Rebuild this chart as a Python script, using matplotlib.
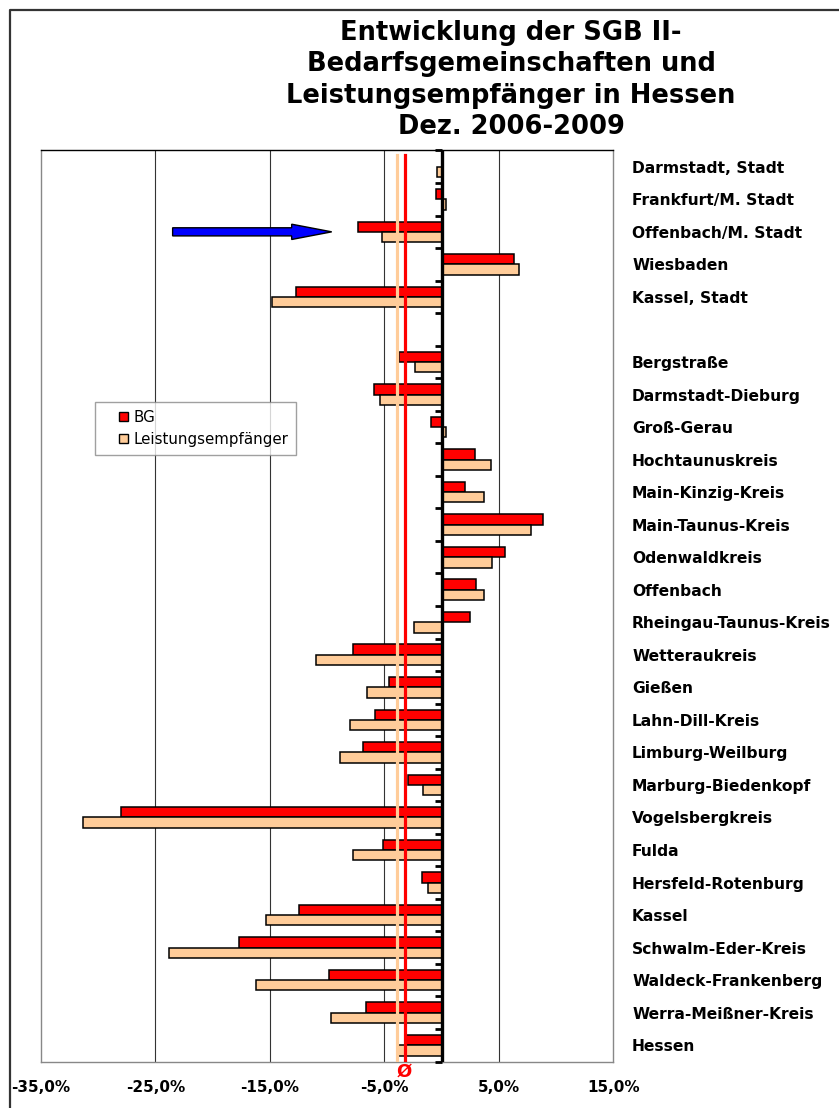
import numpy as np
import matplotlib
matplotlib.use("Agg")
import matplotlib.pyplot as plt
from matplotlib.patches import Patch, FancyArrow, Rectangle
from matplotlib.legend_handler import HandlerPatch
from matplotlib.lines import Line2D
from matplotlib import markers

# --- data: change Dec 2006 -> Dec 2009 in percent ---
categories = [
    "Darmstadt, Stadt", "Frankfurt/M. Stadt", "Offenbach/M. Stadt", "Wiesbaden",
    "Kassel, Stadt", "", "Bergstraße", "Darmstadt-Dieburg", "Groß-Gerau",
    "Hochtaunuskreis", "Main-Kinzig-Kreis", "Main-Taunus-Kreis", "Odenwaldkreis",
    "Offenbach", "Rheingau-Taunus-Kreis", "Wetteraukreis", "Gießen",
    "Lahn-Dill-Kreis", "Limburg-Weilburg", "Marburg-Biedenkopf", "Vogelsbergkreis",
    "Fulda", "Hersfeld-Rotenburg", "Kassel", "Schwalm-Eder-Kreis",
    "Waldeck-Frankenberg", "Werra-Meißner-Kreis", "Hessen",
]
bg = [0.0, -0.5, -7.3, 6.3, -12.7, np.nan, -3.7, -5.9, -0.9, 2.9, 2.0, 8.9, 5.5,
      3.0, 2.5, -7.7, -4.6, -5.8, -6.9, -2.9, -28.0, -5.1, -1.7, -12.5, -17.7,
      -9.8, -6.6, -3.2]
empfaenger = [-0.4, 0.35, -5.2, 6.8, -14.8, np.nan, -2.3, -5.4, 0.4, 4.3, 3.7, 7.8,
              4.4, 3.7, -2.4, -11.0, -6.5, -8.0, -8.9, -1.6, -31.3, -7.7, -1.2,
              -15.3, -23.8, -16.2, -9.7, -3.9]
xticks = [-35, -25, -15, -5, 5, 15]
xtick_labels = ["-35,0%", "-25,0%", "-15,0%", "-5,0%", "5,0%", "15,0%"]
series_names = ["BG", "Leistungsempfänger"]
title = "Entwicklung der SGB II-\nBedarfsgemeinschaften und\nLeistungsempfänger in Hessen\nDez. 2006-2009"

RED = "#FF0000"
PEACH = "#FFCC99"

W, H = 839, 1108
fig = plt.figure(figsize=(W / 100, H / 100), dpi=100)
plt.rcParams["font.family"] = ["DejaVu Sans"]

# axes in pixel terms
L, R, T, B = 41, 613.3, 150.5, 1061.5
ax = fig.add_axes([L / W, 1 - B / H, (R - L) / W, (B - T) / H])

n = len(categories)
pos = np.arange(n)
bh = 0.317

bg_arr = np.array(bg, dtype=float)
le_arr = np.array(empfaenger, dtype=float)
ok = ~np.isnan(bg_arr)
ax.barh(pos[ok] - bh / 2, bg_arr[ok], height=bh, color=RED,
        edgecolor="black", linewidth=1.1, zorder=3)
ax.barh(pos[ok] + bh / 2, le_arr[ok], height=bh, color=PEACH,
        edgecolor="black", linewidth=1.1, zorder=3)

ax.set_xlim(xticks[0], xticks[-1])
ax.set_ylim(n - 0.5, -0.5)

# vertical gridlines
for xv in xticks[1:-1]:
    ax.axvline(xv, color="#333333", linewidth=0.8, zorder=1)

# category axis at zero with tick marks on slot boundaries
ax.axvline(0, color="black", linewidth=2.4, zorder=5)
bounds = np.arange(n + 1) - 0.5
ax.plot(np.zeros_like(bounds), bounds, ls="none", marker=markers.TICKLEFT,
        markersize=5, markeredgewidth=2, color="black", zorder=5,
        clip_on=False)

# Hessen averages as reference lines
hessen_bg = bg_arr[-1]
hessen_le = le_arr[-1]
y_top = -0.5 + 5 / (B - T) * n
ax.plot([hessen_le, hessen_le], [y_top, n - 0.5], color=PEACH, lw=2.3, zorder=6)
ax.plot([hessen_bg, hessen_bg], [y_top, n - 0.5], color=RED, lw=2.3, zorder=6)
ax.text((hessen_bg + hessen_le) / 2 + 0.3, n - 0.5 + 0.3, "Ø", color=RED,
        fontsize=13, fontweight="bold", ha="center", va="center",
        clip_on=False, zorder=7)

# blue arrow pointing at Offenbach/M. Stadt
ax.add_patch(FancyArrow(-23.5, categories.index("Offenbach/M. Stadt"), 13.9, 0,
                        width=0.25, head_width=0.47, head_length=3.5,
                        length_includes_head=True, facecolor="#0000FF",
                        edgecolor="black", linewidth=1.0, zorder=7))

# spines
for s in ("left", "right", "bottom"):
    ax.spines[s].set_color("#888888")
    ax.spines[s].set_linewidth(1.0)
ax.spines["top"].set_color("black")
ax.spines["top"].set_linewidth(1.0)

ax.set_xticks(xticks)
ax.set_xticklabels(xtick_labels, fontsize=11, fontweight="bold")
ax.tick_params(axis="x", length=0, pad=13)

ax.set_yticks(pos)
ax.set_yticklabels(categories, fontsize=11.2, fontweight="bold")
ax.yaxis.tick_right()
ax.tick_params(axis="y", length=0, pad=13.5)
for lbl in ax.get_yticklabels():
    lbl.set_horizontalalignment("left")
    lbl.set_verticalalignment("center_baseline")


# legend: small square key sitting at the right of a wider handle box
def square_key(legend, orig_handle, xdescent, ydescent, width, height, fontsize):
    s = 6.5
    return Rectangle((width - s - xdescent, (height - s) / 2 - ydescent), s, s)


handles = [Patch(facecolor=RED, edgecolor="black", linewidth=1.0),
           Patch(facecolor=PEACH, edgecolor="black", linewidth=1.0)]
leg = fig.legend(handles, series_names, loc="upper left",
                 bbox_to_anchor=(95 / W, 1 - 402 / H), borderaxespad=0,
                 fontsize=10.8, frameon=True, fancybox=False, shadow=False,
                 handlelength=1.7, handleheight=0.7, handletextpad=0.35,
                 labelspacing=0.5, borderpad=0.5,
                 handler_map={Patch: HandlerPatch(patch_func=square_key)})
leg.get_frame().set_edgecolor("#888888")
leg.get_frame().set_linewidth(1.0)

# title
fig.text(511 / W, 1 - 80 / H, title, ha="center", va="center", fontsize=18.5,
         fontweight="bold", linespacing=1.28)

# outer frame
fig.add_artist(Line2D([10 / W, 10 / W, 1.0], [0.0, 1 - 10 / H, 1 - 10 / H],
                      transform=fig.transFigure, color="#333333", lw=1.6))

fig.savefig("out.png", dpi=100)
